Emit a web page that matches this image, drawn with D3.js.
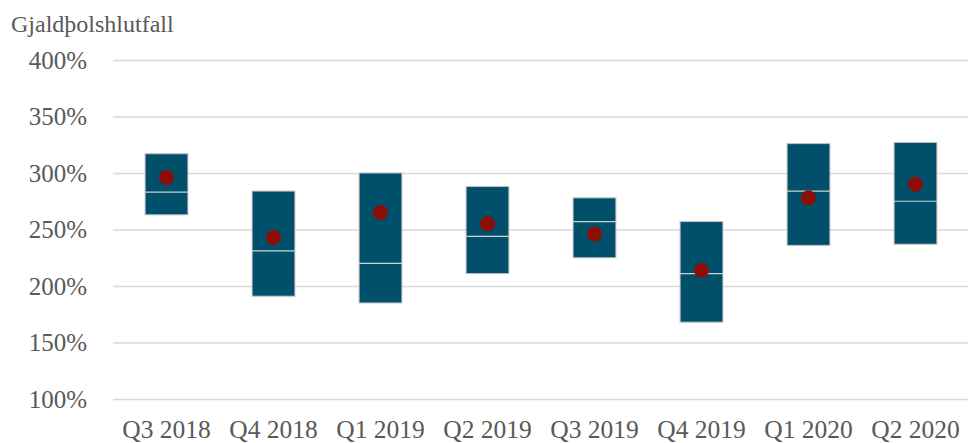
<!DOCTYPE html>
<html>
<head>
<meta charset="utf-8">
<script src="https://cdn.jsdelivr.net/npm/d3@7"></script>
<style>
  body { margin: 0; background: #fff; }
  svg text { font-family: "Liberation Serif", "Times New Roman", serif; fill: #595959; }
</style>
</head>
<body>
<div id="chart"></div>
<script>
// quarters on the x axis
const quarters = ["Q3 2018", "Q4 2018", "Q1 2019", "Q2 2019", "Q3 2019", "Q4 2019", "Q1 2020", "Q2 2020"];
// box bottom / top, median line and mean dot (in %)
const lowVals    = [263, 191, 185, 211, 225, 168, 236, 237];
const highVals   = [317, 284, 300, 288, 278, 257, 326, 327];
const medianVals = [283, 231, 220, 244, 257, 211, 284, 275];
const meanVals   = [296, 243, 265, 255, 246, 214, 278, 290];
const yTicks = [100, 150, 200, 250, 300, 350, 400];

const width = 968, height = 443;
const margin = {top: 60, right: 0, bottom: 44, left: 113};

const svg = d3.select("#chart").append("svg")
    .attr("width", width)
    .attr("height", height);

const x = d3.scaleBand()
    .domain(quarters)
    .range([margin.left, width - margin.right + 1])
    .paddingInner(0.6)
    .paddingOuter(0.3);

const y = d3.scaleLinear()
    .domain([100, 400])
    .range([height - margin.bottom, margin.top]);

// gridlines + y labels
const yAxis = d3.axisLeft(y)
    .tickValues(yTicks)
    .tickFormat(d => d + "%")
    .tickSize(-(width - margin.left))
    .tickPadding(26);

svg.append("g")
    .attr("class", "y-axis")
    .attr("transform", `translate(${margin.left},0)`)
    .call(yAxis)
    .call(g => g.select(".domain").remove())
    .call(g => g.selectAll("line").attr("stroke", "#d9d9d9").attr("stroke-width", 1.5))
    .call(g => g.selectAll("text").style("font-size", "25px").attr("dy", "0.33em"));

// x labels
const xAxis = d3.axisBottom(x).tickSize(0);
svg.append("g")
    .attr("class", "x-axis")
    .attr("transform", `translate(0,${y(100)})`)
    .call(xAxis)
    .call(g => g.select(".domain").remove())
    .call(g => g.selectAll("text").style("font-size", "25.5px").attr("y", 39).attr("dy", 0));

const rows = quarters.map((q, i) => ({
    q: q, low: lowVals[i], high: highVals[i], median: medianVals[i], mean: meanVals[i]
}));

// boxes
svg.selectAll(".box")
    .data(rows)
    .enter().append("rect")
    .attr("class", "box")
    .attr("x", d => x(d.q))
    .attr("y", d => y(d.high))
    .attr("width", x.bandwidth())
    .attr("height", d => y(d.low) - y(d.high))
    .attr("fill", "#004f6b")
    .attr("stroke", "#bfbfbf")
    .attr("stroke-width", 1);

// median lines
svg.selectAll(".median")
    .data(rows)
    .enter().append("line")
    .attr("class", "median")
    .attr("x1", d => x(d.q))
    .attr("x2", d => x(d.q) + x.bandwidth())
    .attr("y1", d => y(d.median))
    .attr("y2", d => y(d.median))
    .attr("stroke", "#d0d0d0")
    .attr("stroke-width", 1.2);

// mean dots
svg.selectAll(".mean")
    .data(rows)
    .enter().append("circle")
    .attr("class", "mean")
    .attr("cx", d => x(d.q) + x.bandwidth() / 2)
    .attr("cy", d => y(d.mean))
    .attr("r", 7.5)
    .attr("fill", "#8e0e05");

// title
svg.append("text")
    .attr("x", 11)
    .attr("y", 32)
    .style("font-size", "24px")
    .text("Gjaldþolshlutfall");
</script>
</body>
</html>
